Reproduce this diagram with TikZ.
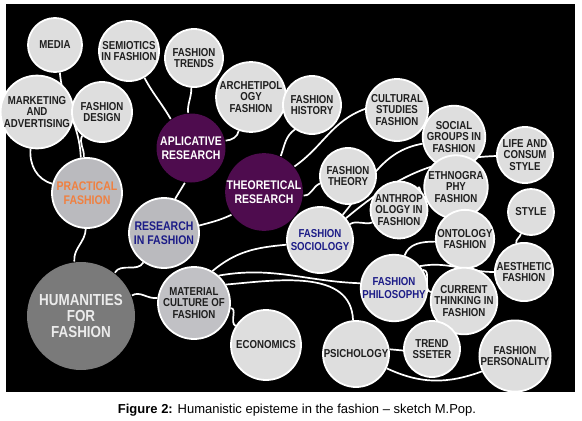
\documentclass[tikz,border=0pt]{standalone}
\usepackage{fontspec}
\setmainfont{Liberation Sans}
\newfontfamily\bubblefont{Liberation Sans}[FakeStretch=0.84]
\pgfdeclarelayer{bg}
\pgfdeclarelayer{links}
\pgfsetlayers{bg,links,main}
\definecolor{bubblegray}{RGB}{222,222,222}
\definecolor{midgray}{RGB}{186,186,190}
\definecolor{darkgray}{RGB}{122,122,122}
\definecolor{hubpurple}{RGB}{78,12,78}
\definecolor{labelnavy}{RGB}{28,28,135}
\definecolor{labelorange}{RGB}{240,128,64}

\begin{document}
\begin{tikzpicture}[
    x=1pt, y=1pt,
    every node/.style={circle, draw=white, line width=1.8pt, inner sep=0pt, align=center, fill=bubblegray, text=black!88, font=\bubblefont\bfseries\fontsize{11.5}{11.5}\selectfont},
    hub/.style={fill=hubpurple, draw=none, text=white, font=\bubblefont\bfseries\fontsize{12.5}{13.5}\selectfont},
    branch/.style={fill=midgray, font=\bubblefont\bfseries\fontsize{12.5}{14}\selectfont},
    field/.style={text=labelnavy, font=\bubblefont\bfseries\fontsize{11.5}{12.5}\selectfont},
    link/.style={draw=white, line width=1.7pt}
]
\useasboundingbox (0,0) rectangle (582,-421);
\begin{pgfonlayer}{bg}
\fill[black] (6,-4) rectangle (575,-392);
\end{pgfonlayer}

\node[minimum size=54pt] (media) at (55,-45) {MEDIA};
\node[minimum size=60pt] (semiotics) at (129,-51) {SEMIOTICS\\IN FASHION};
\node[minimum size=58pt] (trends) at (194,-58) {FASHION\\TRENDS};
\node[minimum size=62pt] (archetip) at (251,-97) {ARCHETIPOL\\OGY\\FASHION};
\node[minimum size=58pt] (history) at (312,-105) {FASHION\\HISTORY};
\node[minimum size=60pt] (marketing) at (37,-112) {MARKETING\\AND\\ADVERTISING};
\node[minimum size=60pt] (design) at (102,-112) {FASHION\\DESIGN};

\node[hub, minimum size=69pt] (aplic) at (191,-148) {APLICATIVE\\RESEARCH};
\node[hub, minimum size=68pt] (theor) at (264,-192) {THEORETICAL\\RESEARCH};
\node[branch, minimum size=70pt, text=labelorange] (practical) at (87,-193) {PRACTICAL\\FASHION};
\node[branch, minimum size=70pt, text=labelnavy] (research) at (164,-233) {RESEARCH\\IN FASHION};
\node[draw=none, fill=darkgray, text=black!8, minimum size=108pt, font=\bubblefont\bfseries\fontsize{16}{16}\selectfont] (humanities) at (81,-316) {HUMANITIES\\FOR\\FASHION};
\node[fill=midgray!90!white, minimum size=72pt] (material) at (194,-303) {MATERIAL\\CULTURE OF\\FASHION};
\node[minimum size=70pt] (economics) at (266,-345) {ECONOMICS};

\node[minimum size=62pt] (cultural) at (397,-110) {CULTURAL\\STUDIES\\FASHION};
\node[minimum size=56pt] (theory) at (348,-176) {FASHION\\THEORY};
\node[minimum size=52pt] (social) at (454,-137) {SOCIAL\\GROUPS IN\\FASHION};
\node[minimum size=56pt] (life) at (525,-155) {LIFE AND\\CONSUM\\STYLE};
\node[minimum size=52pt] (ethno) at (456,-187) {ETHNOGRA\\PHY\\FASHION};
\node[minimum size=54pt] (anthrop) at (399,-210) {ANTHROP\\OLOGY IN\\FASHION};
\node[field, minimum size=66pt] (sociology) at (320,-240) {FASHION\\SOCIOLOGY};
\node[minimum size=46pt] (style) at (531,-212) {STYLE};
\node[minimum size=54pt] (ontology) at (465,-239) {ONTOLOGY\\FASHION};
\node[minimum size=56pt] (aesthetic) at (524,-272) {AESTHETIC\\FASHION};
\node[field, minimum size=62pt] (philosophy) at (394,-288) {FASHION\\PHILOSOPHY};
\node[minimum size=54pt] (current) at (464,-301) {CURRENT\\THINKING IN\\FASHION};
\node[minimum size=66pt] (psichology) at (356,-354) {PSICHOLOGY};
\node[minimum size=56pt] (trendsetter) at (432,-349) {TREND\\SSETER};
\node[minimum size=60pt] (personality) at (515,-356) {FASHION\\PERSONALITY};

\node[draw=none, fill=none, shape=rectangle, text=black, font=\fontsize{13}{15}\selectfont] (caption) at (297,-410) {\textbf{Figure 2:} Humanistic episteme in the fashion -- sketch M.Pop.};

\begin{pgfonlayer}{links}
\draw[link] (media.-80) to[out=-85,in=92] (practical.100);
\draw[link] (design.230) to[out=245,in=85] (practical.95);
\draw[link] (marketing.260) to[out=265,in=165] (practical.165);
\draw[link] (semiotics.-60) to[out=-62,in=120] (aplic.125);
\draw[link] (trends.-95) to[out=-90,in=92] (aplic.95);
\draw[link] (archetip.-110) to[out=-100,in=5] (aplic.12);
\draw[link] (history.235) to[out=215,in=70] (theor.65);
\draw[link] (cultural.178) to[out=200,in=35] (theor.40);
\draw[link] (theory.195) to[out=200,in=-5] (theor.-5);
\draw[link] (aplic.-100) -- (research.72);
\draw[link] (theor.215) to[out=205,in=15] (research.12);
\draw[link] (practical.-92) to[out=-92,in=95] (humanities.97);
\draw[link] (research.235) to[out=240,in=60] (humanities.52);
\draw[link] (humanities.22) to[out=30,in=190] (material.172);
\draw[link] (material.60) to[out=40,in=185] (sociology.188);
\draw[link] (material.48) to[out=10,in=178] (philosophy.172);
\draw[link] (material.30) to[out=5,in=92] (psichology.95);
\draw[link] (material.-8) to[out=0,in=150] (economics.148);
\draw[link] (psichology.8) -- (trendsetter.183);
\draw[link] (psichology.-25) to[out=-25,in=200] (personality.205);
\draw[link] (sociology.48) to[out=50,in=190] (social.192);
\draw[link] (sociology.40) to[out=40,in=182] (life.182);
\draw[link] (sociology.28) to[out=30,in=200] (anthrop.205);
\draw[link] (anthrop.50) to[out=60,in=195] (ethno.198);
\draw[link] (philosophy.72) to[out=70,in=180] (ontology.185);
\draw[link] (philosophy.40) to[out=10,in=180] (aesthetic.180);
\draw[link] (philosophy.32) to[out=0,in=170] (current.165);
\draw[link] (style.-115) to[out=-100,in=100] (aesthetic.105);
\end{pgfonlayer}
\end{tikzpicture}
\end{document}
